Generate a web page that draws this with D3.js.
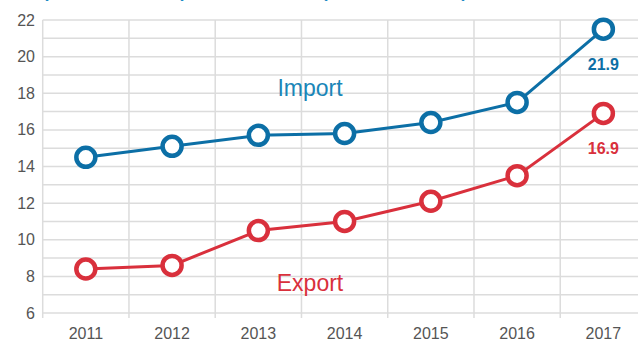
<!DOCTYPE html>
<html>
<head>
<meta charset="utf-8">
<script src="https://cdn.jsdelivr.net/npm/d3@7"></script>
<style>
  body { margin: 0; background: #fff; }
  svg { display: block; font-family: "Liberation Sans", Arial, sans-serif; }
  .grid line { stroke: #dcdcdc; stroke-width: 1.5; }
  .tick-label { fill: #555; font-size: 16px; }
</style>
</head>
<body>
<svg id="chart"></svg>
<script>
var years = ["2011", "2012", "2013", "2014", "2015", "2016", "2017"];
var importValues = [14.5, 15.1, 15.7, 15.8, 16.4, 17.5, 21.5];
var exportValues = [8.4, 8.6, 10.5, 11.0, 12.1, 13.5, 16.9];
var yTicks = [6, 8, 10, 12, 14, 16, 18, 20, 22];
var endLabels = ["21.9", "16.9"];
var seriesNames = ["Import", "Export"];
var title = "Import and export values (billion USD)";

var width = 638, height = 345;
var svg = d3.select("#chart").attr("width", width).attr("height", height);

var x = d3.scaleBand().domain(years).range([42.7, 646.5]);
var y = d3.scaleLinear().domain([6, 22]).range([313, 20]);

// title sits mostly above the top edge, as in the source
svg.append("text")
    .attr("x", 14)
    .attr("y", -5)
    .attr("fill", "#1a8ac4")
    .style("font-size", "27px")
    .text(title);

// horizontal grid, one line per unit
var grid = svg.append("g").attr("class", "grid");
grid.selectAll(".h")
    .data(d3.range(6, 23))
    .enter().append("line")
    .attr("x1", x.range()[0])
    .attr("x2", width)
    .attr("y1", function(d) { return y(d); })
    .attr("y2", function(d) { return y(d); });

// vertical grid at band edges
grid.selectAll(".v")
    .data(years)
    .enter().append("line")
    .attr("x1", function(d) { return x(d); })
    .attr("x2", function(d) { return x(d); })
    .attr("y1", y(22))
    .attr("y2", y(6) + 5);

// y labels
svg.selectAll(".ylab")
    .data(yTicks)
    .enter().append("text")
    .attr("class", "tick-label")
    .attr("x", 35)
    .attr("y", function(d) { return y(d); })
    .attr("dy", "0.35em")
    .attr("text-anchor", "end")
    .text(function(d) { return d; });

// x labels
svg.selectAll(".xlab")
    .data(years)
    .enter().append("text")
    .attr("class", "tick-label")
    .attr("x", function(d) { return x(d) + x.bandwidth() / 2; })
    .attr("y", 333)
    .attr("dy", "0.35em")
    .attr("text-anchor", "middle")
    .text(function(d) { return d; });

var line = d3.line()
    .x(function(d, i) { return x(years[i]) + x.bandwidth() / 2; })
    .y(function(d) { return y(d); });

var series = [
    {name: seriesNames[0], values: importValues, color: "#0c6fa6", text: "#1a86b8", label: endLabels[0]},
    {name: seriesNames[1], values: exportValues, color: "#d9303c", text: "#d9303c", label: endLabels[1]}
];

series.forEach(function(s) {
    svg.append("path")
        .datum(s.values)
        .attr("fill", "none")
        .attr("stroke", s.color)
        .attr("stroke-width", 3)
        .attr("d", line);

    svg.selectAll(".dot-" + s.name)
        .data(s.values)
        .enter().append("circle")
        .attr("cx", function(d, i) { return x(years[i]) + x.bandwidth() / 2; })
        .attr("cy", function(d) { return y(d); })
        .attr("r", 9.5)
        .attr("fill", "#fff")
        .attr("stroke", s.color)
        .attr("stroke-width", 4.5);

    var last = s.values.length - 1;
    svg.append("text")
        .attr("x", x(years[last]) + x.bandwidth() / 2)
        .attr("y", y(s.values[last]) + 41)
        .attr("text-anchor", "middle")
        .attr("fill", s.color)
        .style("font-size", "16px")
        .style("font-weight", "bold")
        .text(s.label);
});

// series names
svg.append("text")
    .attr("x", 310)
    .attr("y", 96)
    .attr("text-anchor", "middle")
    .attr("fill", series[0].text)
    .style("font-size", "23px")
    .text(seriesNames[0]);

svg.append("text")
    .attr("x", 310)
    .attr("y", 291)
    .attr("text-anchor", "middle")
    .attr("fill", series[1].text)
    .style("font-size", "23px")
    .text(seriesNames[1]);
</script>
</body>
</html>
